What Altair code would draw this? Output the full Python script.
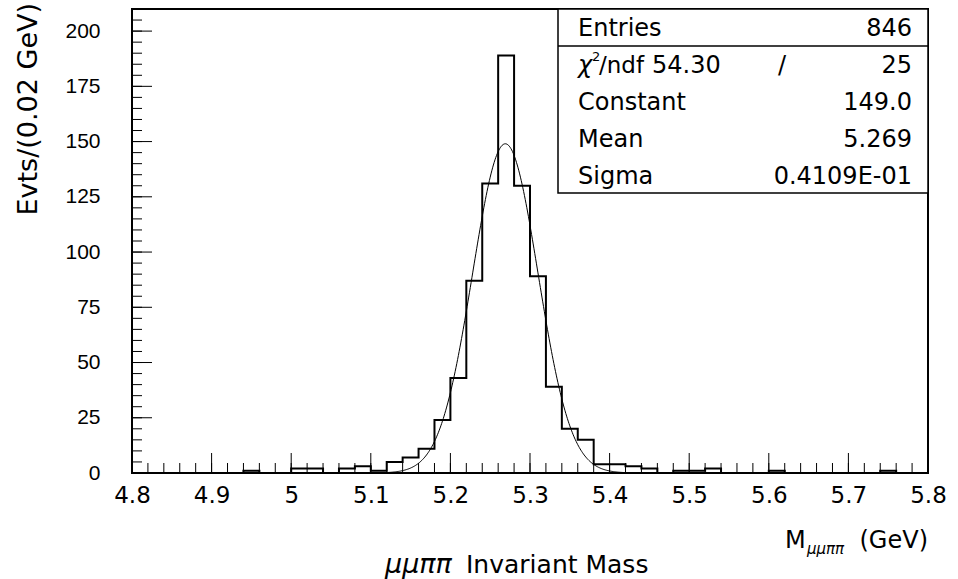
import altair as alt
import pandas as pd

# ---------------- data ----------------
BIN_START = 4.8
BIN_WIDTH = 0.02
COUNTS = [0, 0, 0, 0, 0, 0, 0, 1, 0, 0,
          2, 2, 0, 2, 3, 1, 5, 7, 11, 24,
          43, 87, 131, 189, 130, 89, 39, 20, 15, 4,
          4, 3, 2, 0, 1, 1, 2, 0, 0, 0,
          1, 0, 0, 0, 0, 0, 0, 1, 0, 0]

X_MAJOR = [4.8, 4.9, 5.0, 5.1, 5.2, 5.3, 5.4, 5.5, 5.6, 5.7, 5.8]
X_MINOR = [round(4.8 + 0.02 * i, 2) for i in range(51)]
Y_MAJOR = [0, 25, 50, 75, 100, 125, 150, 175, 200]
Y_MINOR = [5 * i for i in range(43)]

STATS_LABELS = ["Entries", "Constant", "Mean", "Sigma"]
STATS_VALUES = ["846", "149.0", "5.269", "0.4109E-01"]
CHI2_NAME = ["χ", "2", "/ndf"]
CHI2_VALUE = "54.30"
NDF_VALUE = "25"

FIT_CONSTANT = 149.0
FIT_MEAN = 5.269
FIT_SIGMA = 0.04109
FIT_FROM, FIT_TO = 5.12, 5.42

Y_TITLE = "Evts/(0.02 GeV)"
X_TITLE_MAIN = "M"
X_TITLE_SUB = "μμππ"
X_TITLE_UNIT = "(GeV)"
BOTTOM_GREEK = "μμππ"
BOTTOM_TEXT = "Invariant Mass"

# ---------------- chart ----------------
W, H = 796, 464

edges = [round(BIN_START + BIN_WIDTH * i, 2) for i in range(len(COUNTS) + 1)]
hist_df = pd.DataFrame({"x": edges, "y": COUNTS + [COUNTS[-1]]})

xscale = alt.Scale(domain=[4.8, 5.8], nice=False, zero=False)
yscale = alt.Scale(domain=[0, 210], nice=False, zero=True)

xaxis = alt.Axis(values=X_MAJOR, format=".1~f", labelFlush=False, labelOverlap=False,
                 ticks=False, tickSize=0, domain=False, grid=False,
                 labelFont="DejaVu Sans", labelFontSize=23, labelPadding=11,
                 labelColor="black", title=None)
yaxis = alt.Axis(values=Y_MAJOR, labelOverlap=False, ticks=False, tickSize=0,
                 domain=False, grid=False, labelFont="Liberation Sans",
                 labelFontSize=21, labelPadding=32, labelColor="black", title=None)


def X(field):
    return alt.X(field, type="quantitative", scale=xscale, axis=xaxis)


def Y(field):
    return alt.Y(field, type="quantitative", scale=yscale, axis=yaxis)


hist = alt.Chart(hist_df).mark_line(
    interpolate="step-after", color="black", strokeWidth=2
).encode(x=X("x"), y=Y("y"))

fit = alt.Chart(alt.sequence(FIT_FROM, FIT_TO + 0.001, 0.001, as_="x")).transform_calculate(
    y=f"{FIT_CONSTANT} * exp(-0.5 * pow((datum.x - {FIT_MEAN}) / {FIT_SIGMA}, 2))"
).mark_line(color="black", strokeWidth=1).encode(x=X("x"), y=Y("y"))

xmaj = alt.Chart(pd.DataFrame({"x": X_MAJOR})).mark_rule(color="black", strokeWidth=1).encode(
    x=X("x"), y=alt.value(H), y2=alt.value(H - 20))
xmin = alt.Chart(pd.DataFrame({"x": X_MINOR})).mark_rule(color="black", strokeWidth=1).encode(
    x=X("x"), y=alt.value(H), y2=alt.value(H - 10))
ymaj = alt.Chart(pd.DataFrame({"y": Y_MAJOR})).mark_rule(color="black", strokeWidth=1).encode(
    y=Y("y"), x=alt.value(0), x2=alt.value(20))
ymin = alt.Chart(pd.DataFrame({"y": Y_MINOR})).mark_rule(color="black", strokeWidth=1).encode(
    y=Y("y"), x=alt.value(0), x2=alt.value(10))

one = pd.DataFrame({"d": [0]})

box = alt.Chart(one).mark_rect(fill="white", stroke="black", strokeWidth=1.5).encode(
    x=alt.value(426), x2=alt.value(W), y=alt.value(0), y2=alt.value(184))
divider = alt.Chart(one).mark_rule(color="black", strokeWidth=1.5).encode(
    x=alt.value(426), x2=alt.value(W), y=alt.value(37))


def text(t, x, y, size=24, align="left", baseline="middle", font="DejaVu Sans",
         style="normal", angle=0):
    kw = dict(text=t, align=align, baseline=baseline, font=font, fontSize=size,
              fontStyle=style, color="black")
    if angle:
        kw["angle"] = angle
    return alt.Chart(one).mark_text(**kw).encode(x=alt.value(x), y=alt.value(y))


ROW_Y = [20, 94, 131, 168]
CHI_Y = 57
texts = []
for lab, val, ry in zip(STATS_LABELS, STATS_VALUES, ROW_Y):
    texts.append(text(lab, 446, ry))
    texts.append(text(val, 780, ry, align="right"))
texts.append(text(CHI2_NAME[0], 446, CHI_Y, style="italic"))
texts.append(text(CHI2_NAME[1], 460, CHI_Y - 9, size=13))
texts.append(text(CHI2_NAME[2], 467, CHI_Y, size=23))
texts.append(text(CHI2_VALUE, 520, CHI_Y))
texts.append(text("/", 650, CHI_Y, align="center"))
texts.append(text(NDF_VALUE, 780, CHI_Y, align="right"))

texts.append(text(Y_TITLE, -95, -6, size=27, align="right", baseline="alphabetic", angle=270))
texts.append(text(X_TITLE_MAIN, 653, 532, size=24))
texts.append(text(X_TITLE_SUB, 675, 540, size=15, style="italic"))
texts.append(text(X_TITLE_UNIT, W, 532, size=24, align="right"))
texts.append(text(BOTTOM_GREEK, 253, 556, size=27, style="italic"))
texts.append(text(BOTTOM_TEXT, 334, 556, size=25))

chart = alt.layer(hist, fit, xmaj, xmin, ymaj, ymin, box, divider, *texts).properties(
    width=W, height=H,
    padding={"left": 132, "top": 9, "right": 30, "bottom": 106},
    autosize=alt.AutoSizeParams(type="none"),
    background="white",
).configure_view(stroke="black", strokeWidth=2)

chart.save("out.html", embed_options={"renderer": "svg", "actions": False})
